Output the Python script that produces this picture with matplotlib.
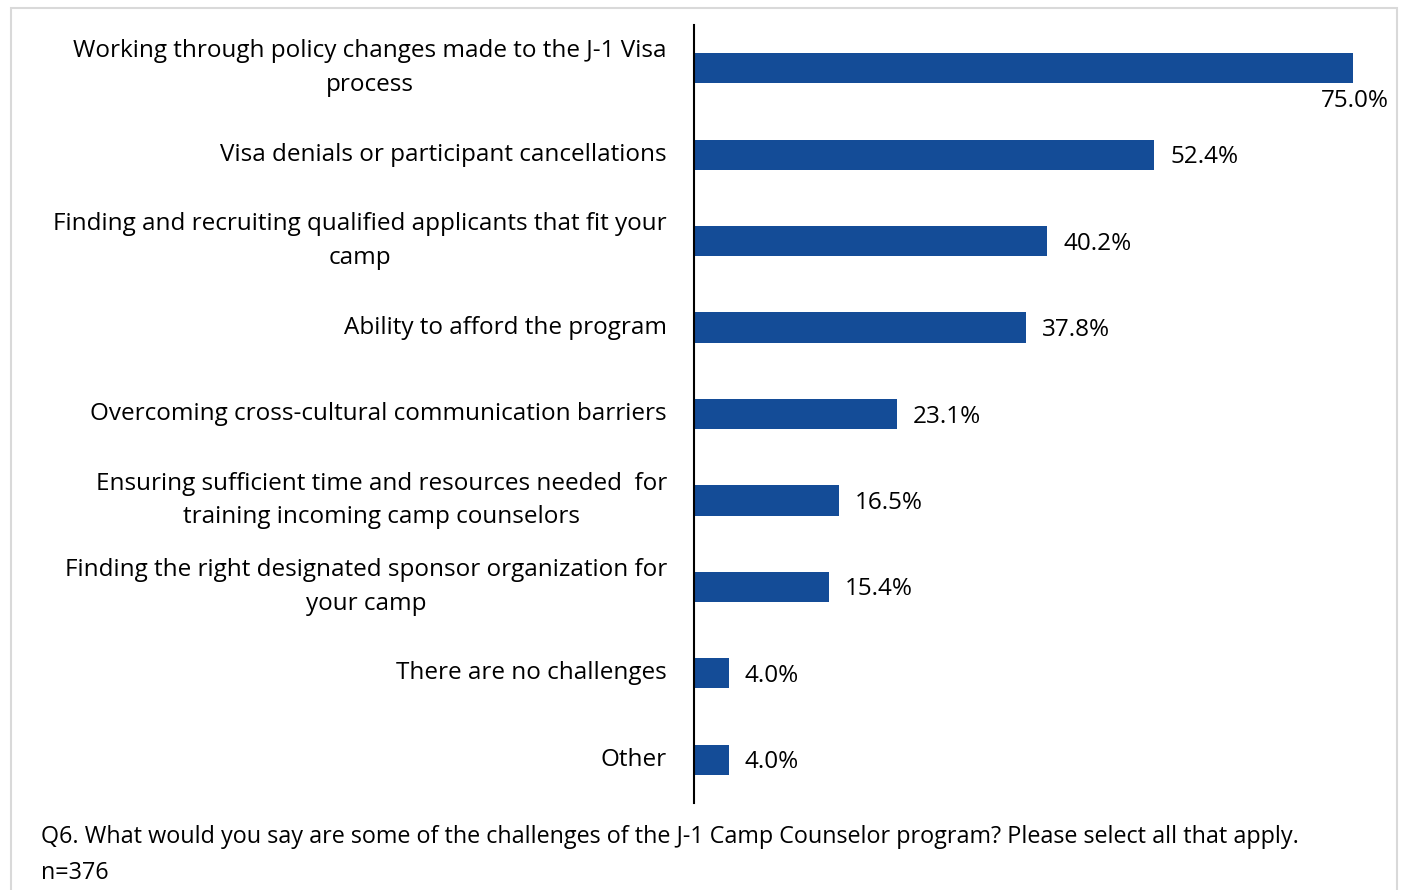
import matplotlib.pyplot as plt
from matplotlib.patches import Rectangle

# Survey responses (share of camps selecting each challenge)
challenges = [
    "Working through policy changes made to the J-1 Visa\nprocess",
    "Visa denials or participant cancellations",
    "Finding and recruiting qualified applicants that fit your\ncamp",
    "Ability to afford the program",
    "Overcoming cross-cultural communication barriers",
    "Ensuring sufficient time and resources needed  for\ntraining incoming camp counselors",
    "Finding the right designated sponsor organization for\nyour camp",
    "There are no challenges",
    "Other",
]
percent = [75.0, 52.4, 40.2, 37.8, 23.1, 16.5, 15.4, 4.0, 4.0]

note = ("Q6. What would you say are some of the challenges of the J-1 Camp Counselor "
        "program? Please select all that apply.\nn=376")

plt.rcParams['font.family'] = ['Open Sans', 'DejaVu Sans']
W, H = 1403, 890
fig = plt.figure(figsize=(W / 100, H / 100), dpi=100)

# light frame around the whole chart
fig.patches.append(Rectangle((11 / W, -0.05), 1386 / W, 1 - 8 / H + 0.05,
                             transform=fig.transFigure, fill=False,
                             edgecolor='#d9d9d9', linewidth=1.5))

x0, x1 = 694, 1390
ax = fig.add_axes([x0 / W, 1 - 803 / H, (x1 - x0) / W, 778 / H])
scale = 659 / 75.0
ax.set_xlim(0, (x1 - x0) / scale)
ax.set_ylim(len(percent) - 0.5, -0.5)

ypos = range(len(percent))
ax.barh(ypos, percent, height=0.35, color='#144C97')

fs = 17.5
for y, v in zip(ypos, percent):
    if v == max(percent):
        ax.text(v + 4.1, y + 0.38, f"{v:.1f}%", ha='right', va='center',
                fontsize=fs, color='black', clip_on=False)
    else:
        ax.text(v + 1.8, y + 0.03, f"{v:.1f}%", ha='left', va='center',
                fontsize=fs, color='black')

ax.set_yticks(list(ypos))
ax.set_yticklabels(challenges, fontsize=fs, linespacing=1.53,
                   multialignment='center', va='center')
ax.tick_params(axis='y', length=0, pad=19.5)
ax.set_xticks([])
for side in ['top', 'right', 'bottom']:
    ax.spines[side].set_visible(False)
ax.spines['left'].set_linewidth(1.5)
ax.spines['left'].set_color('black')

fig.text(41 / W, 1 - 855 / H, note, ha='left', va='center', fontsize=16.8,
         linespacing=1.72)

fig.savefig('out.png', dpi=100)
